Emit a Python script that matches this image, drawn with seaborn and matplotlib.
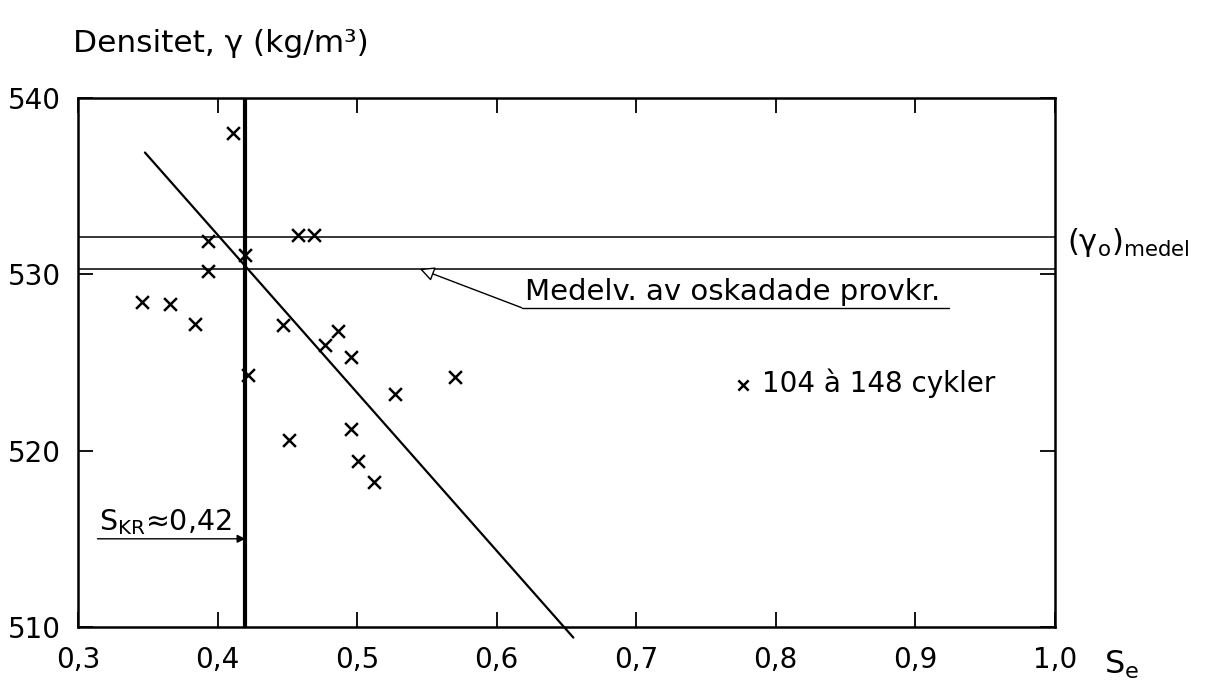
import matplotlib
matplotlib.use("Agg")
import matplotlib.pyplot as plt
import matplotlib.transforms as mtransforms
import seaborn as sns
import pandas as pd

# values
se = [0.346, 0.366, 0.384, 0.393, 0.393, 0.411, 0.420, 0.422, 0.447, 0.451,
      0.458, 0.469, 0.477, 0.486, 0.496, 0.496, 0.501, 0.512, 0.527, 0.570]
densitet = [528.4, 528.3, 527.2, 531.9, 530.2, 538.0, 531.1, 524.3, 527.1, 520.6,
            532.2, 532.2, 526.0, 526.8, 525.3, 521.2, 519.4, 518.2, 523.2, 524.2]

fit_se = [0.348, 0.655]
fit_densitet = [536.9, 509.4]

gamma0_medel = 532.1
medel_oskadade = 530.3
s_kr = 0.42

x_ticks = [0.3, 0.4, 0.5, 0.6, 0.7, 0.8, 0.9, 1.0]
x_labels = ["0,3", "0,4", "0,5", "0,6", "0,7", "0,8", "0,9", "1,0"]
y_ticks = [510, 520, 530, 540]

df = pd.DataFrame({"Se": se, "densitet": densitet})
fit = pd.DataFrame({"Se": fit_se, "densitet": fit_densitet})

sns.set_theme(style="ticks")
plt.rcParams["font.family"] = ["DejaVu Sans"]
plt.rcParams["mathtext.fontset"] = "dejavusans"
plt.rcParams["text.color"] = "black"

fig = plt.figure(figsize=(12.18, 6.89), dpi=100)
ax = fig.add_axes([0.064, 0.090, 0.802, 0.768])

# reference lines
ax.axhline(gamma0_medel, color="black", lw=1.1, zorder=1)
ax.axhline(medel_oskadade, color="black", lw=1.1, zorder=1)
ax.axvline(s_kr, color="black", lw=3, zorder=1)

sns.lineplot(data=fit, x="Se", y="densitet", color="black", lw=1.6,
             ax=ax, clip_on=False, zorder=2)
sns.scatterplot(data=df, x="Se", y="densitet", marker="x", s=85,
                color="black", linewidth=1.8, ax=ax, zorder=3,
                label="104 à 148 cykler")

ax.set_xlim(0.3, 1.0)
ax.set_ylim(510, 540)
ax.set_xticks(x_ticks)
ax.set_xticklabels(x_labels)
ax.set_yticks(y_ticks)
ax.set_xlabel("")
ax.set_ylabel("")
ax.tick_params(direction="in", length=11, width=1.3, labelsize=20,
               top=True, right=True, colors="black")
ax.tick_params(axis="x", pad=14)
ax.tick_params(axis="y", pad=12)
for sp in ax.spines.values():
    sp.set_linewidth(1.8)
    sp.set_color("black")

leg = ax.legend(loc="center left", bbox_to_anchor=(0.652, 0.46), frameon=False,
                fontsize=20, handletextpad=0.2, handlelength=1.0, borderpad=0,
                markerscale=0.8)
for t in leg.get_texts():
    t.set_color("black")

# annotations
fig.text(73 / 1218, 1 - 43 / 689, "Densitet, γ (kg/m³)", fontsize=22.5,
         va="center", ha="left")
fig.text(1104 / 1218, 1 - 665 / 689, r"$\mathregular{S_e}$", fontsize=23,
         va="center", ha="left")

trans = mtransforms.blended_transform_factory(ax.transAxes, ax.transData)
ax.text(1.012, gamma0_medel - 0.3, r"(γ$_\mathrm{o}$)$_\mathrm{medel}$",
        fontsize=22, transform=trans, va="center", ha="left")

ax.annotate("", xy=(s_kr, 515.0), xytext=(0.314, 515.0),
            arrowprops=dict(arrowstyle="-|>", lw=1.0, color="black",
                            shrinkA=0, shrinkB=0, mutation_scale=12))
ax.text(0.315, 515.1, r"$\mathregular{S_{KR}}$≈0,42", fontsize=20.5,
        va="bottom", ha="left")

ax.plot([0.618, 0.924], [528.1, 528.1], color="black", lw=1.0)
ax.annotate("", xy=(0.545, medel_oskadade), xytext=(0.618, 528.1),
            arrowprops=dict(arrowstyle="-|>", lw=1.0, color="black",
                            shrinkA=0, shrinkB=0, mutation_scale=22,
                            fc="white"))
ax.text(0.620, 528.2, "Medelv. av oskadade provkr.", fontsize=21,
        va="bottom", ha="left")

fig.savefig("out.png", dpi=100, facecolor="white")
